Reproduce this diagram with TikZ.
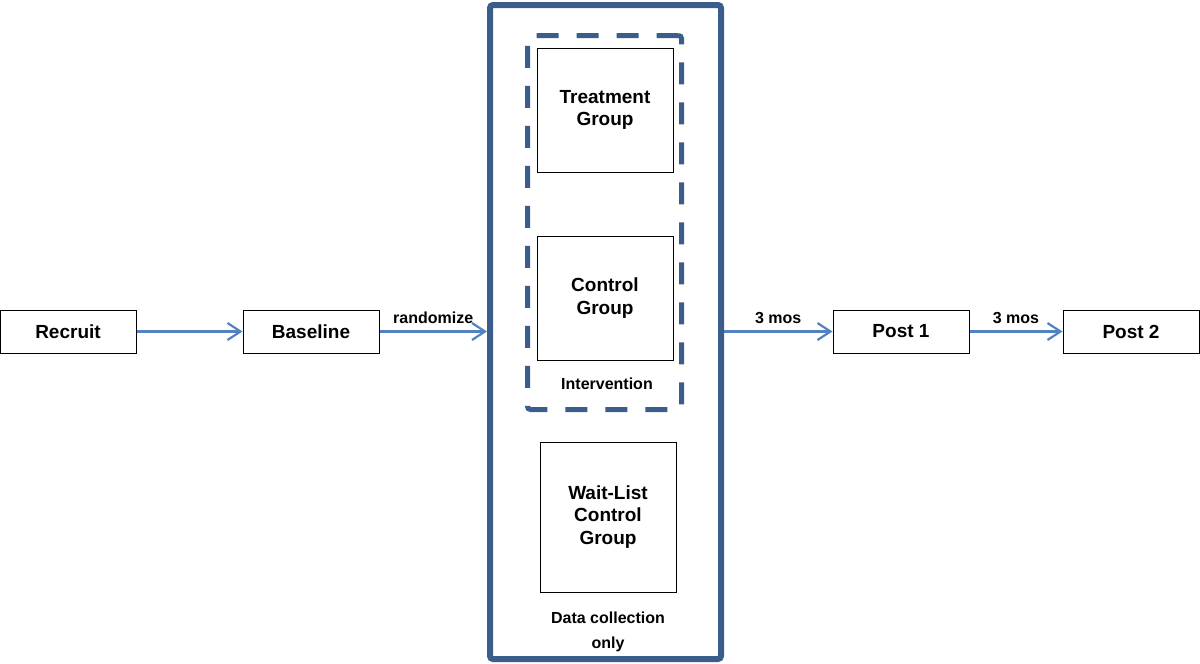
\documentclass[tikz,border=0pt]{standalone}
\usepackage{fontspec}
\setmainfont{Liberation Sans}
\usetikzlibrary{arrows.meta}
\definecolor{arrowblue}{HTML}{5283C0}
\definecolor{frameblue}{HTML}{3B5D8C}
\tikzset{
  stepbox/.style={draw=black, line width=1pt, rectangle, inner sep=0pt, align=center,
    font=\fontsize{19}{22.5}\selectfont\bfseries},
  flowbox/.style={stepbox, minimum width=136pt, minimum height=43pt},
  groupbox/.style={stepbox, minimum width=136pt},
  lbl/.style={font=\fontsize{16}{25}\selectfont\bfseries, align=center, inner sep=0pt},
  flow/.style={draw=arrowblue, line width=2.2pt, -{Straight Barb[length=13pt,width=17pt,line width=2.2pt]}},
}
\begin{document}
\begin{tikzpicture}[x=1pt,y=-1pt]
\useasboundingbox (0,0) rectangle (1200,664);
\node[flowbox] (recruit) at (68,331.5) {Recruit};
\node[flowbox] (baseline) at (311,331.5) {Baseline};
\node[flowbox] (post1) at (901,331.5) {Post 1};
\node[flowbox] (post2) at (1131,331.5) {Post 2};
\node[draw=frameblue, line width=6pt, rounded corners=3pt, minimum width=231pt, minimum height=654pt, inner sep=0pt] (outer) at (605.5,332) {};
\node[draw=frameblue, line width=5pt, dash pattern=on 22pt off 18pt, rounded corners=3pt, minimum width=154pt, minimum height=374pt, inner sep=0pt] (dashbox) at (604.5,222.5) {};
\node[groupbox, minimum height=124pt] (treat) at (605,110) {Treatment\\Group};
\node[groupbox, minimum height=124pt] (control) at (605,298) {Control\\Group};
\node[groupbox, minimum height=150pt] (wait) at (608,517) {Wait-List\\Control\\Group};
\node[lbl] (interv) at (607,384) {Intervention};
\node[lbl] (datacol) at (608,632) {Data collection\\only};
\draw[flow] (recruit) -- (baseline);
\draw[flow] (baseline) -- (baseline -| outer.west) node[lbl, midway, above=7pt] (rand) {randomize};
\draw[flow] (post1 -| outer.east) -- (post1) node[lbl, midway, above=7pt] (mos1) {3 mos};
\draw[flow] (post1) -- (post2) node[lbl, midway, above=7pt] (mos2) {3 mos};
\end{tikzpicture}
\end{document}
